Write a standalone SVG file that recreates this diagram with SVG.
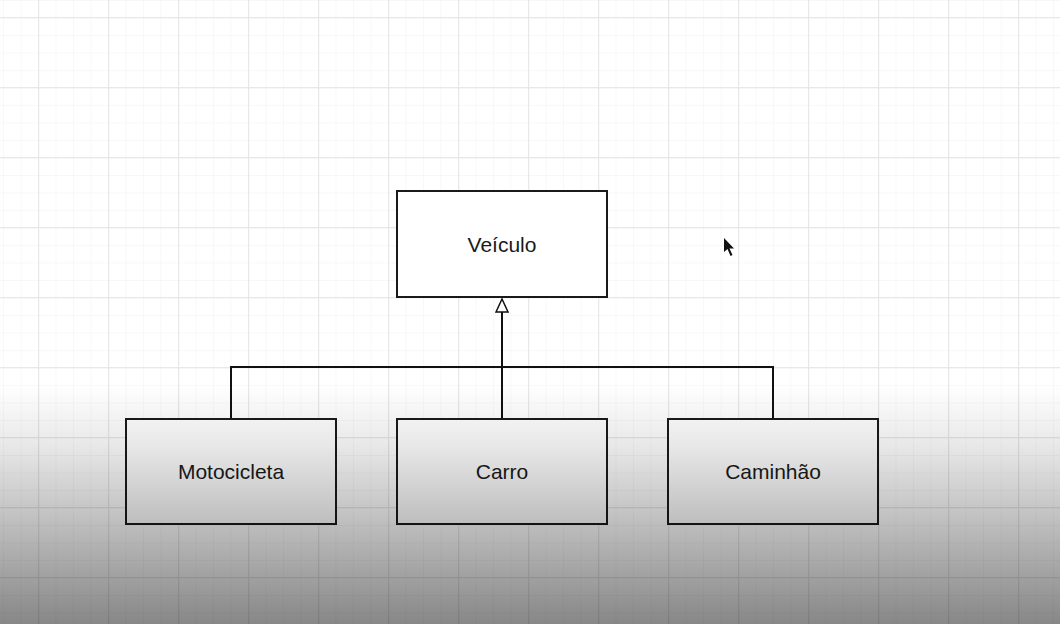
<svg xmlns="http://www.w3.org/2000/svg" width="1060" height="624" viewBox="0 0 1060 624">
  <defs>
    <pattern id="minor" width="17.5" height="17.5" patternUnits="userSpaceOnUse" x="3" y="0">
      <path d="M 0 0 L 0 17.5 M 0 0 L 17.5 0" fill="none" stroke="#f2f2f2" stroke-width="1"/>
    </pattern>
    <pattern id="major" width="70" height="70" patternUnits="userSpaceOnUse" x="38" y="17">
      <path d="M 0.5 0 L 0.5 70 M 0 0.5 L 70 0.5" fill="none" stroke="#e8e8e8" stroke-width="1.5"/>
    </pattern>
    <linearGradient id="shade" x1="0" y1="0" x2="0" y2="1" gradientUnits="objectBoundingBox">
      <stop offset="0" stop-color="#000" stop-opacity="0"/>
      <stop offset="0.25" stop-color="#000" stop-opacity="0.09"/>
      <stop offset="1" stop-color="#000" stop-opacity="0.47"/>
    </linearGradient>
    <marker id="inherit" markerWidth="16" markerHeight="16" refX="14" refY="7" orient="auto" markerUnits="userSpaceOnUse">
      <path d="M 1 1 L 14 7 L 1 13 Z" fill="#fff" stroke="#111" stroke-width="1.5"/>
    </marker>
    <style>
      .box { fill: #ffffff; stroke: #1a1a1a; stroke-width: 2; }
      .lbl { font-family: "Liberation Sans", Arial, sans-serif; font-size: 21px; fill: #1a1a1a; text-anchor: middle; dominant-baseline: central; }
      .conn { fill: none; stroke: #111; stroke-width: 2; }
    </style>
  </defs>
  <rect width="1060" height="624" fill="#ffffff"/>
  <rect width="1060" height="624" fill="url(#minor)"/>
  <rect width="1060" height="624" fill="url(#major)"/>

  <g id="connectors">
    <path class="conn" d="M 231 419 L 231 367 L 773 367 L 773 419"/>
    <path class="conn" d="M 502 419 L 502 299" marker-end="url(#inherit)"/>
  </g>

  <g id="veiculo">
    <rect class="box" x="397" y="191" width="210" height="106"/>
    <text class="lbl" x="502" y="244">Veículo</text>
  </g>
  <g id="motocicleta">
    <rect class="box" x="126" y="419" width="210" height="105"/>
    <text class="lbl" x="231" y="471">Motocicleta</text>
  </g>
  <g id="carro">
    <rect class="box" x="397" y="419" width="210" height="105"/>
    <text class="lbl" x="502" y="471">Carro</text>
  </g>
  <g id="caminhao">
    <rect class="box" x="668" y="419" width="210" height="105"/>
    <text class="lbl" x="773" y="471">Caminhão</text>
  </g>

  <path d="M 724 238 L 724 252 L 727.5 249 L 730.5 256 L 732.5 255 L 729.5 248.5 L 734 248.5 Z" fill="#111"/>

  <rect x="0" y="385" width="1060" height="239" fill="url(#shade)"/>
</svg>
